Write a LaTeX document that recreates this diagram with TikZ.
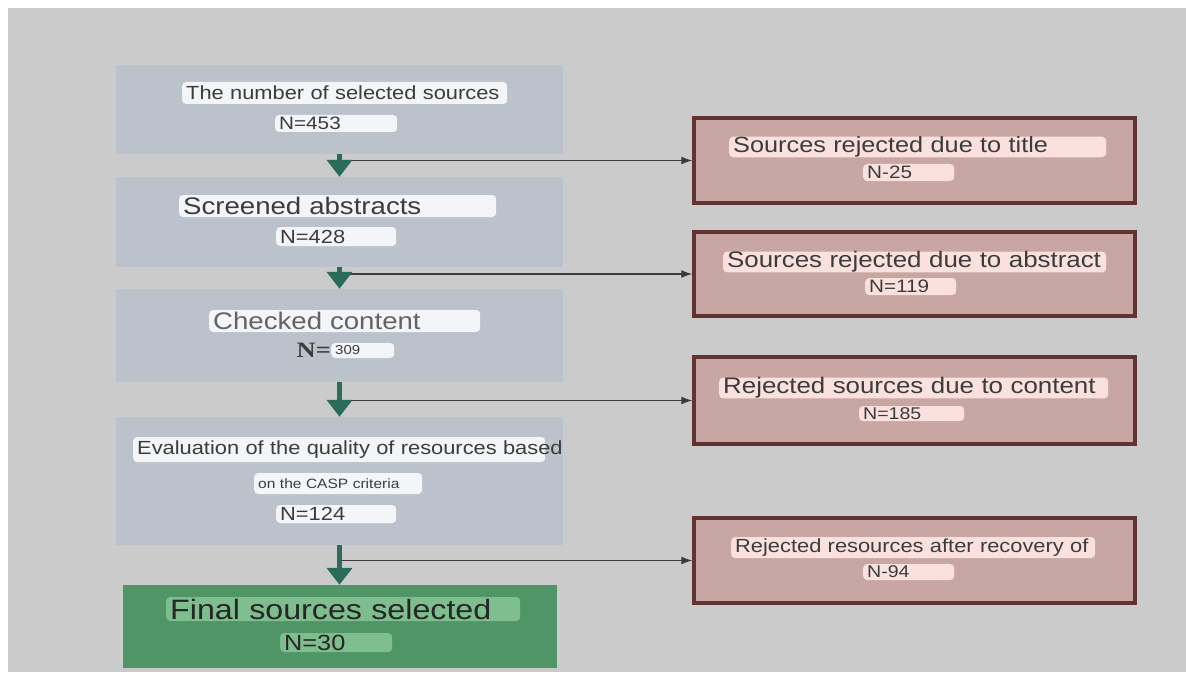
\documentclass[tikz,border=0pt]{standalone}
\usepackage{fontspec}
\setmainfont{Liberation Sans}[FakeStretch=1.15]
\newfontfamily\serifN{Liberation Serif}[FakeStretch=1.2]
\usetikzlibrary{arrows.meta}
\newcommand{\fsz}[1]{\fontsize{#1}{#1}\selectfont}
\definecolor{bggrey}{HTML}{CBCBCB}
\definecolor{boxgrey}{HTML}{BCC2CB}
\definecolor{pillwhite}{HTML}{F4F5F9}
\definecolor{boxgreen}{HTML}{4F9565}
\definecolor{pillgreen}{HTML}{7EBD8D}
\definecolor{arrowteal}{HTML}{2A6B5B}
\definecolor{rejfill}{HTML}{C8A6A3}
\definecolor{rejdraw}{HTML}{633232}
\definecolor{pillpink}{HTML}{FAE1DE}
\definecolor{txtgrey}{HTML}{3C3C3C}
\tikzset{
  leftbox/.style={fill=boxgrey,inner sep=0pt},
  finalbox/.style={fill=boxgreen,inner sep=0pt},
  rejbox/.style={fill=rejfill,draw=rejdraw,line width=3.5pt,inner sep=0pt,minimum width=441pt},
  pill/.style={fill=pillwhite,rounded corners=4pt,anchor=west,align=left,
    inner xsep=4pt,inner ysep=0pt,text=txtgrey},
  downarrow/.style={draw=arrowteal,line width=5pt,-{Triangle[width=25pt,length=17pt]}},
  sidearrow/.style={draw=txtgrey,line width=1.1pt,-{Latex[length=11pt,width=8pt]}}
}
\begin{document}
\begin{tikzpicture}[x=1pt,y=-1pt]
\useasboundingbox (0,0) rectangle (1186,682);
\fill[white] (0,0) rectangle (1186,682);
\fill[bggrey] (8,8) rectangle (1186,672);

% left column
\node (b1) at (339.5,109.5)[leftbox,minimum width=447pt,minimum height=89pt]{};
\node (b2) at (339.5,222)[leftbox,minimum width=447pt,minimum height=90pt]{};
\node (b3) at (339.5,335.5)[leftbox,minimum width=447pt,minimum height=93pt]{};
\node (b4) at (339.5,481)[leftbox,minimum width=447pt,minimum height=128pt]{};
\node (b5) at (339.5,626.5)[finalbox,minimum width=434pt,minimum height=83pt]{};

% right column
\node (r1) at (914.5,160.5)[rejbox,minimum height=85pt]{};
\node (r2) at (914.5,274)[rejbox,minimum height=84pt]{};
\node (r3) at (914.5,400.5)[rejbox,minimum height=87pt]{};
\node (r4) at (914.5,560.5)[rejbox,minimum height=85pt]{};

% labels, left
\node (p1) at (182,93)[pill,text width=317pt,minimum height=22pt,font=\fsz{19}]{The number of selected sources};
\node (n1) at (275,123.5)[pill,text width=114pt,minimum height=17pt,font=\fsz{18}]{N=453};
\node (p2) at (179,206)[pill,text width=309pt,minimum height=22pt,font=\fsz{24}]{Screened abstracts};
\node (n2) at (276,236.5)[pill,text width=112pt,minimum height=19pt,font=\fsz{19}]{N=428};
\node (p3) at (209,321)[pill,text width=263pt,minimum height=22pt,font=\fsz{24},text=txtgrey!80]{Checked content};
\node (n3a) at (331,350)[anchor=east,inner sep=0pt,text=txtgrey,font=\serifN\bfseries\fsz{22}]{N=};
\node (n3) at (331,350.5)[pill,text width=55pt,minimum height=15pt,font=\fsz{13}]{309};
\node (p4) at (133,449.5)[pill,text width=404pt,minimum height=25pt,font=\fsz{19}]{\mbox{Evaluation of the quality of resources based}};
\node (p4b) at (254,483.5)[pill,text width=160pt,minimum height=21pt,font=\fsz{13.5}]{on the CASP criteria};
\node (n4) at (276,514)[pill,text width=112pt,minimum height=18pt,font=\fsz{19}]{N=124};
\node (p5) at (166,609)[pill,fill=pillgreen,text=black!85,text width=346pt,minimum height=24pt,font=\fsz{28}]{Final sources selected};
\node (n5) at (280,642.5)[pill,fill=pillgreen,text=black!85,text width=104pt,minimum height=19pt,font=\fsz{22}]{N=30};

% labels, right
\node (q1) at (729,147)[pill,fill=pillpink,text width=369pt,minimum height=20pt,font=\fsz{22}]{Sources rejected due to title};
\node (m1) at (863,172.5)[pill,fill=pillpink,text width=83pt,minimum height=17pt,font=\fsz{18}]{N-25};
\node (q2) at (723,262)[pill,fill=pillpink,text width=375pt,minimum height=20pt,font=\fsz{22.5}]{Sources rejected due to abstract};
\node (m2) at (865,286.5)[pill,fill=pillpink,text width=83pt,minimum height=17pt,font=\fsz{18}]{N=119};
\node (q3) at (719,388)[pill,fill=pillpink,text width=381pt,minimum height=20pt,font=\fsz{22.5}]{Rejected sources due to content};
\node (m3) at (859,413.5)[pill,fill=pillpink,text width=97pt,minimum height=15pt,font=\fsz{17}]{N=185};
\node (q4) at (731,547.5)[pill,fill=pillpink,text width=356pt,minimum height=21pt,font=\fsz{19}]{Rejected resources after recovery of};
\node (m4) at (863,572)[pill,fill=pillpink,text width=83pt,minimum height=16pt,font=\fsz{17}]{N-94};

% connectors
\foreach \a/\r in {b1/r1,b2/r2,b3/r3,b4/r4}
  \draw[sidearrow] (\a.south |- \r.west) -- (\r.west);
\foreach \a/\b in {b1/b2,b2/b3,b3/b4,b4/b5}
  \draw[downarrow] (\a.south) -- (\a.south |- \b.north);
\end{tikzpicture}
\end{document}
